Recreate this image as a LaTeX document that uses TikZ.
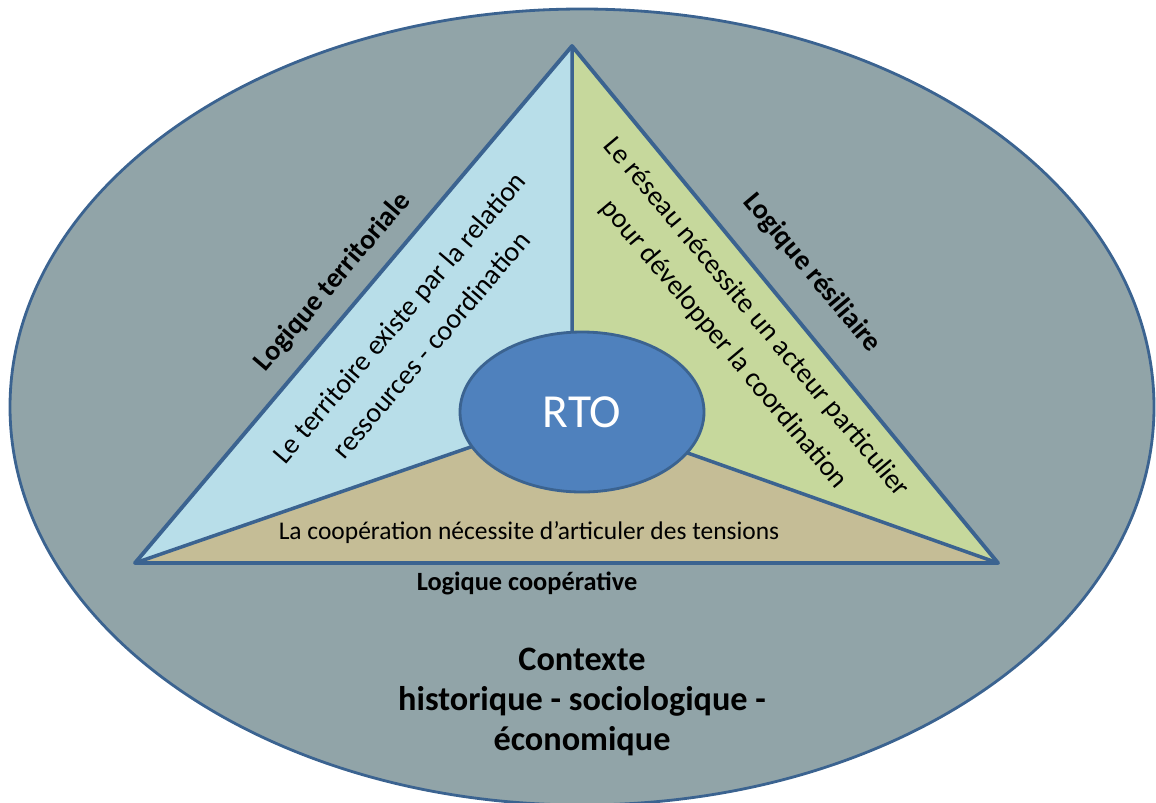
\documentclass[tikz,border=0pt]{standalone}
\usepackage{fontspec}
\setmainfont{Carlito}
\usetikzlibrary{shapes.geometric}
\definecolor{context}{HTML}{91A4A8}
\definecolor{edgeblue}{HTML}{3B6390}
\definecolor{territ}{HTML}{B8DEE9}
\definecolor{reseau}{HTML}{C6D89C}
\definecolor{coop}{HTML}{C5BD96}
\definecolor{rtoblue}{HTML}{4F81BD}

\begin{document}
\begin{tikzpicture}[x=0.02cm, y=-0.02cm,
  sidetext/.style={font=\fontsize{16}{24}\selectfont, align=center},
  logic/.style={font=\fontsize{16}{19}\selectfont\bfseries}]
\useasboundingbox (0,0) rectangle (1156,802);
% Context
\draw[edgeblue, line width=1.6pt, fill=context] (582,407) ellipse [x radius=572, y radius=398];
% Triangle corners
\coordinate (apex) at (572,46);
\coordinate (left) at (135,563);
\coordinate (right) at (998,563);
\coordinate (mid) at (572,412);
% Regions
\fill[territ] (apex) -- (left) -- (mid) -- cycle;
\fill[reseau] (apex) -- (right) -- (mid) -- cycle;
\fill[coop] (left) -- (right) -- (mid) -- cycle;
\draw[edgeblue, line width=2pt] (apex) -- (mid) (left) -- (mid) -- (right);
\draw[edgeblue, line width=2.2pt, line join=round] (apex) -- (left) -- (right) -- cycle;
% RTO
\node[ellipse, draw=edgeblue, line width=1.6pt, fill=rtoblue, minimum width=244*0.02cm, minimum height=160*0.02cm,
  text=white, font=\fontsize{27}{30}\selectfont] (rto) at (582,412) {RTO};
% Labels
\node[sidetext, rotate=49.5] (territText) at (415,331) {Le territoire existe par la relation\\ressources - coordination};
\node[sidetext, rotate=-50] (reseauText) at (740,331) {Le réseau nécessite un acteur particulier\\pour développer la coordination};
\node[font=\fontsize{14.5}{17}\selectfont] (coopText) at (529,533) {La coopération nécessite d’articuler des tensions};
\node[logic, rotate=49.5] (territLogic) at (333,282) {Logique territoriale};
\node[logic, rotate=-50] (reseauLogic) at (812,273) {Logique résiliaire};
\node[font=\fontsize{15}{18}\selectfont\bfseries] (coopLogic) at (527,583) {Logique coopérative};
\node[font=\fontsize{19.5}{23}\selectfont\bfseries, align=center] (context) at (582,702) {Contexte\\historique - sociologique -\\économique};
\end{tikzpicture}
\end{document}
